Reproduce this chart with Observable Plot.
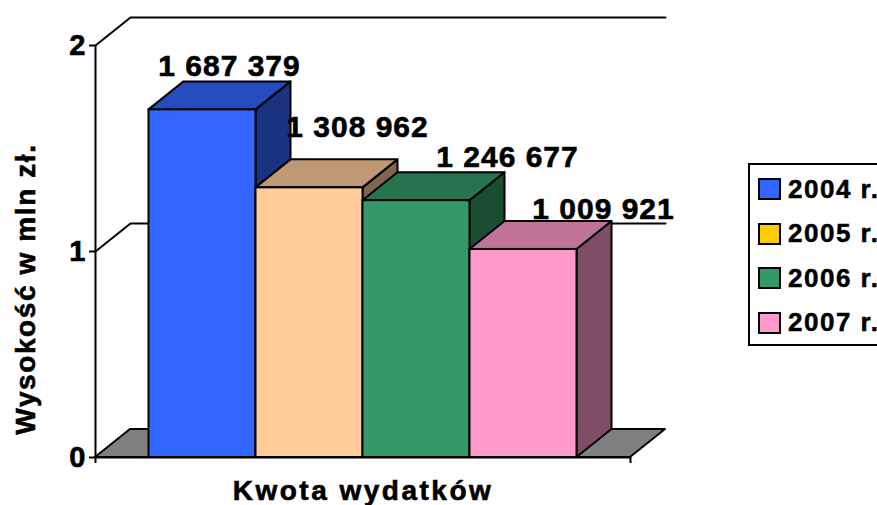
<!DOCTYPE html>
<html><head><meta charset="utf-8">
<script src="https://cdn.jsdelivr.net/npm/d3@7"></script>
<script src="https://cdn.jsdelivr.net/npm/@observablehq/plot@0.6"></script>
<style>
body{margin:0;background:#fff;overflow:hidden;font-family:"Liberation Sans",Arial,sans-serif;}
#wrap{position:relative;width:877px;height:505px;overflow:hidden;}
#chart svg{display:block}
#chart svg text{font-family:"Liberation Sans",Arial,sans-serif;font-weight:bold;fill:#000;stroke:#000;stroke-width:0.6px}
#chart svg .vlab text{letter-spacing:1px}
#chart svg .xtitle text{letter-spacing:2.5px}
#ytitle{position:absolute;left:26px;top:289px;transform:translate(-50%,-50%) rotate(-90deg);font-weight:bold;font-size:28px;line-height:28px;letter-spacing:1.6px;white-space:nowrap;-webkit-text-stroke:0.6px #000}
#legend{position:absolute;left:748px;top:163px;width:160px;height:183px;border:2px solid #000;box-sizing:border-box;background:#fff}
.item{position:absolute;left:8px;height:30px;display:flex;align-items:center;font-weight:bold;font-size:26px;letter-spacing:1.5px;white-space:nowrap;-webkit-text-stroke:0.5px #000}
.sw{width:19px;height:18px;border:2px solid #000;margin-right:7px;flex:none}
</style></head>
<body><div id="wrap"><div id="chart"></div><div id="ytitle"></div><div id="legend"></div></div>
<script>
// ---- data ----
const years = ["2004 r.", "2005 r.", "2006 r.", "2007 r."];
const values = [1687379, 1308962, 1246677, 1009921];      // zł
const valueLabels = ["1 687 379", "1 308 962", "1 246 677", "1 009 921"];
const yTicks = [0, 1, 2];                                   // mln zł
const barColors = ["#3366FF", "#FFCC99", "#339966", "#FF99CC"];
const legendColors = ["#3366FF", "#FFCC00", "#339966", "#FF99CC"];
const yTitle = "Wysokość w mln zł.";
const xTitle = "Kwota wydatków";

// ---- styling constants ----
const dX = 35 / 107, dY = 28 / 206;          // 3D depth in data units
const labelDx = [27, 48, 91, 80], labelDy = [-44, -60, -43, -40];
const xMin = -0.5;
const floorMax = years.length + 0.5;

function shade(c, k) { const r = d3.rgb(c); return d3.rgb(r.r * k, r.g * k, r.b * k).formatHex(); }

const bars = values.map((v, i) => ({i, v: v / 1e6, label: valueLabels[i], color: barColors[i]}));

const marks = [];
// floor
marks.push(Plot.areaX([{y: 0, x1: xMin, x2: floorMax}, {y: dY, x1: xMin + dX, x2: floorMax + dX}],
  {y: "y", x1: "x1", x2: "x2", fill: "#808080", stroke: "#000", strokeWidth: 2}));
// gridlines / back wall lines
const grid = yTicks.filter(t => t > 0).flatMap(t => [
  {t, x: xMin, y: t}, {t, x: xMin + dX, y: t + dY}, {t, x: floorMax + dX, y: t + dY}]);
marks.push(Plot.line(grid, {x: "x", y: "y", z: "t", stroke: "#000", strokeWidth: 2}));
// bars, left to right
bars.forEach(b => {
  marks.push(Plot.areaY([{x: b.i + 1, y1: 0, y2: b.v}, {x: b.i + 1 + dX, y1: dY, y2: b.v + dY}],
    {x: "x", y1: "y1", y2: "y2", fill: shade(b.color, 0.5), stroke: "#000", strokeWidth: 2}));
  marks.push(Plot.areaX([{y: b.v, x1: b.i, x2: b.i + 1}, {y: b.v + dY, x1: b.i + dX, x2: b.i + 1 + dX}],
    {y: "y", x1: "x1", x2: "x2", fill: shade(b.color, 0.75), stroke: "#000", strokeWidth: 2}));
  marks.push(Plot.rect([b], {x1: d => d.i, x2: d => d.i + 1, y1: 0, y2: "v", fill: b.color, stroke: "#000", strokeWidth: 2}));
});
// axes lines
marks.push(Plot.ruleX([xMin], {y1: 0, y2: yTicks[yTicks.length - 1], stroke: "#000", strokeWidth: 2}));
marks.push(Plot.ruleY([0], {x1: xMin, x2: floorMax, stroke: "#000", strokeWidth: 2}));
marks.push(Plot.axisX([xMin, floorMax], {tickSize: 6, tickFormat: () => "", strokeWidth: 2, label: null}));
marks.push(Plot.axisY(yTicks, {tickSize: 6, tickPadding: 4, fontSize: 29, tickFormat: d => String(d), strokeWidth: 2, label: null}));
// value labels
bars.forEach(b => {
  marks.push(Plot.text([b], {x: d => d.i + 0.5, y: "v", text: "label", fontSize: 30,
    dx: labelDx[b.i], dy: labelDy[b.i], className: "vlab"}));
});
// x title
marks.push(Plot.text([xTitle], {frameAnchor: "bottom", lineAnchor: "top", dy: 23, fontSize: 28, className: "xtitle"}));

const chart = Plot.plot({
  width: 877, height: 505,
  marginLeft: 95, marginRight: 247, marginTop: 45, marginBottom: 48,
  x: {domain: [xMin, floorMax], axis: null},
  y: {domain: [0, 2], axis: null},
  style: {background: "transparent", overflow: "visible"},
  marks
});
document.getElementById("chart").appendChild(chart);
document.getElementById("ytitle").textContent = yTitle;

// legend
const lg = document.getElementById("legend");
years.forEach((y, i) => {
  const it = document.createElement("div");
  it.className = "item";
  it.style.top = (9 + i * 44.5) + "px";
  it.innerHTML = `<span class="sw" style="background:${legendColors[i]}"></span><span>${y}</span>`;
  lg.appendChild(it);
});
</script>
</body></html>
